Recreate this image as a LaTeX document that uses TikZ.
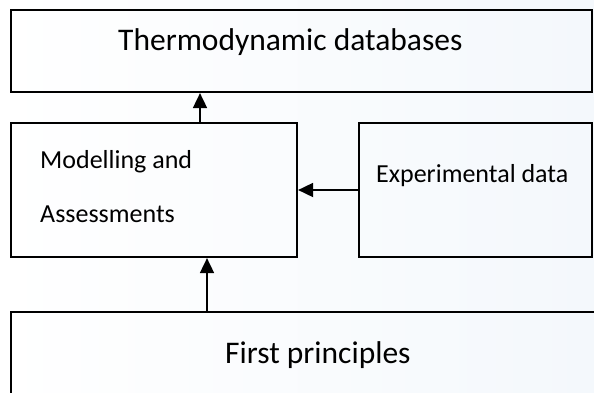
\documentclass[tikz,border=0pt]{standalone}
\usepackage{fontspec}
\setmainfont{Carlito}
\usepackage{tikz}
\usetikzlibrary{arrows.meta}
\usepackage{xcolor}
\definecolor{paleblue}{RGB}{244,248,252}
\tikzset{
  box/.style={draw, line width=2.2pt, rectangle, inner sep=0pt},
  lbl/.style={anchor=base west, inner sep=0pt},
  flow/.style={line width=1.8pt, -{Triangle[length=15pt,width=14pt]}},
  }
\newcommand{\bigtxt}{\fontsize{31.5}{38}\selectfont}
\newcommand{\midtxt}{\fontsize{26}{31}\selectfont}

\begin{document}
\begin{tikzpicture}[x=1pt,y=-1pt]
            \useasboundingbox (0,0) rectangle (594,392);
            \clip (0,0) rectangle (594,392);
            % Background
            \shade[left color=white, right color=paleblue] (0,0) rectangle (594,392);

            % Boxes
            \node[box, minimum width=581pt, minimum height=82pt]  (thermo) at (301.5,51)  {};
            \node[box, minimum width=286pt, minimum height=134pt] (model)  at (154,190)   {};
            \node[box, minimum width=233pt, minimum height=134pt] (expt)   at (475.5,190) {};
            \node[box, minimum width=599pt, minimum height=98pt]  (first)  at (310.5,361) {};

            % Labels
            \node[lbl] (thermotxt) at (118,50)  {\bigtxt Thermodynamic databases};
            \node[lbl] (modeltxt)  at (40,168)  {\midtxt Modelling and};
            \node[lbl] (assesstxt) at (40,222)  {\midtxt Assessments};
            \node[lbl] (expttxt)   at (376,182) {\midtxt Experimental data};
            \node[lbl] (firsttxt)  at (225,363) {\bigtxt First principles};

            % Arrows
            \draw[flow] ([xshift=46pt]model.north) -- ([xshift=46pt]model.north |- thermo.south);
            \draw[flow] (expt.west) -- (model.east);
            \draw[flow] ([xshift=53pt]model.south |- first.north) -- ([xshift=53pt]model.south);
\end{tikzpicture}
\end{document}
